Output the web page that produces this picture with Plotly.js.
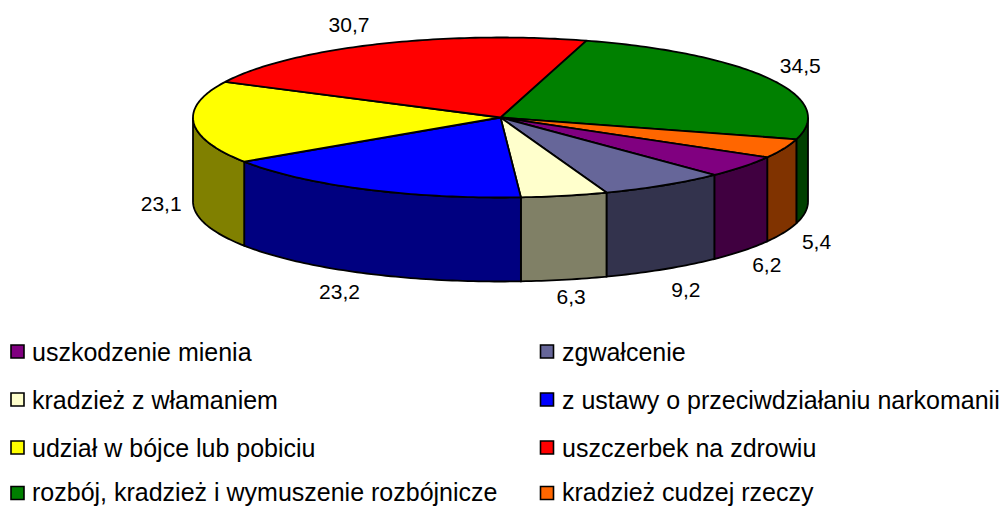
<!DOCTYPE html>
<html><head><meta charset="utf-8">
<script src="https://cdn.plot.ly/plotly-3.0.1.min.js"></script>
<style>html,body{margin:0;padding:0;background:#fff;overflow:hidden}#c{width:1000px;height:506px}</style>
</head><body><div id="c"></div>
<script>
// Data, in drawing order (clockwise from the green slice)
const categories = ["rozbój, kradzież i wymuszenie rozbójnicze","kradzież cudzej rzeczy","uszkodzenie mienia","zgwałcenie","kradzież z włamaniem","z ustawy o przeciwdziałaniu narkomanii","udział w bójce lub pobiciu","uszczerbek na zdrowiu"];
const values = [34.5,5.4,6.2,9.2,6.3,23.2,23.1,30.7];
const topColors = ["#008000","#FF6600","#800080","#666699","#FFFFCC","#0000FF","#FFFF00","#FF0000"];
const sideColors = ["#004000","#803300","#400040","#33334D","#808066","#000080","#808000","#800000"];
const legendOrder = [2,3,4,5,6,7,0,1];

// Projection of the tilted pie onto the page
const cx=500.5, cy=117.5, rx=307.5, ry=80, depth=84, startDeg=16.2;
const total = values.reduce((a,b)=>a+b,0);
const px = d => cx + rx*Math.sin(d*Math.PI/180);
const py = (d,z=0) => cy - ry*Math.cos(d*Math.PI/180) + z;
const arc = (a,b,z=0) => { const n=Math.max(2,Math.ceil(Math.abs(b-a))); const xs=[],ys=[];
  for(let i=0;i<=n;i++){const d=a+(b-a)*i/n; xs.push(px(d)); ys.push(py(d,z));} return [xs,ys]; };

const traces=[]; let a=startDeg; const slices=[];
values.forEach((v,i)=>{ const b=a+v/total*360; slices.push([a,b,(a+b)/2]); a=b; });
const base={type:'scatter',mode:'lines',fill:'toself',hoverinfo:'skip',showlegend:false,line:{color:'#000',width:1.8,simplify:false}};
// walls (front half only)
slices.forEach(([s,e],i)=>{ const l=Math.max(s,90), h=Math.min(e,270); if(h<=l) return;
  const [x1,y1]=arc(l,h,0), [x2,y2]=arc(h,l,depth);
  traces.push({...base,x:[...x1,...x2,x1[0]],y:[...y1,...y2,y1[0]],fillcolor:sideColors[i]}); });
// top faces
slices.forEach(([s,e],i)=>{ const [x1,y1]=arc(s,e,0);
  traces.push({...base,name:categories[i],x:[cx,...x1,cx],y:[cy,...y1,cy],fillcolor:topColors[i]}); });
// data labels, placed radially beyond the rim
const nudgeX=[-2,-2,-6,2,-1,-8,5,-13], nudgeY=[0,2,2,3,-4,0,-2,4];
const lx=[],ly=[],lt=[];
slices.forEach(([s,e,m],i)=>{ const sn=Math.sin(m*Math.PI/180), cs=Math.cos(m*Math.PI/180);
  lx.push(cx+345*sn+nudgeX[i]); ly.push(cy-103*cs+(cs<0.05?depth:0)+nudgeY[i]);
  lt.push(values[i].toFixed(1).replace('.',',')); });
traces.push({type:'scatter',mode:'text',x:lx,y:ly,text:lt,textposition:'middle center',hoverinfo:'skip',showlegend:false,cliponaxis:false,
  textfont:{family:'Liberation Sans, Arial, sans-serif',size:21,color:'#000'}});
// legend
const rowY=[351.5,399.5,447.5,493], textY=[351.5,399.5,447.5,492], colSwatch=[17.5,547], colText=[29.5,559.5];
const annotations=[];
const sx=[],sy=[],sc=[];
legendOrder.forEach((idx,k)=>{ const col=k%2,row=(k-col)/2;
  sx.push(colSwatch[col]); sy.push(rowY[row]); sc.push(topColors[idx]);
  annotations.push({x:colText[col],y:textY[row],xref:'x',yref:'y',text:categories[idx],showarrow:false,xanchor:'left',yanchor:'middle',
    font:{family:'Liberation Sans, Arial, sans-serif',size:25,color:'#000'}}); });
traces.push({type:'scatter',mode:'markers',x:sx,y:sy,hoverinfo:'skip',showlegend:false,marker:{symbol:'square',size:13,color:sc,line:{color:'#000',width:1.6}}});

Plotly.newPlot('c',traces,{width:1000,height:506,margin:{l:0,r:0,t:0,b:0},paper_bgcolor:'#fff',plot_bgcolor:'#fff',showlegend:false,
  xaxis:{range:[0,1000],visible:false,fixedrange:true},yaxis:{range:[506,0],visible:false,fixedrange:true},annotations},{displayModeBar:false,staticPlot:true});
</script></body></html>
